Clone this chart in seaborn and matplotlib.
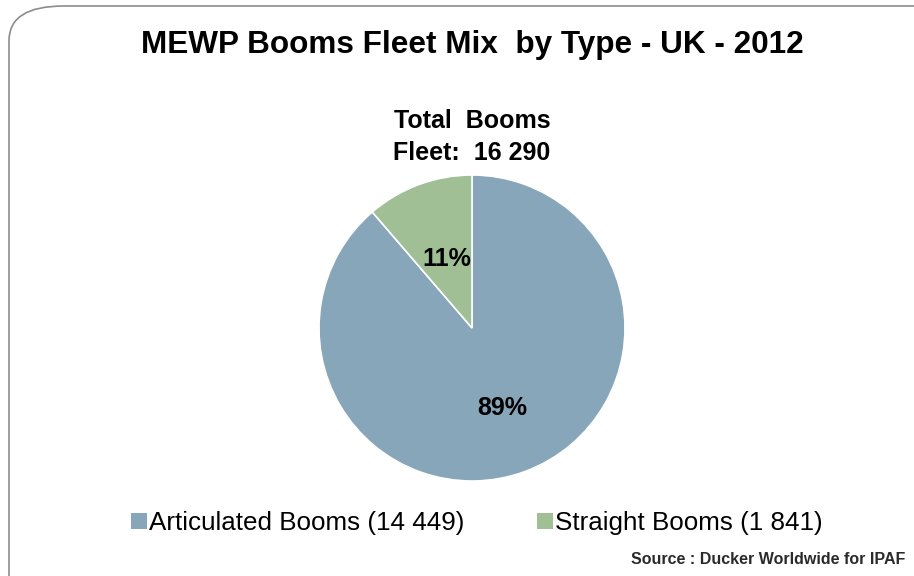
import matplotlib
matplotlib.use("Agg")
import matplotlib.pyplot as plt
import seaborn as sns
from matplotlib.patches import FancyBboxPatch, Patch

categories = ["Articulated Booms", "Straight Booms"]
counts = [14449, 1841]
legend_labels = ["Articulated Booms (14 449)", "Straight Booms (1 841)"]
colors = ["#87a6ba", "#a0bf94"]
title = "MEWP Booms Fleet Mix  by Type - UK - 2012"
total_lines = ["Total  Booms", "Fleet:  16 290"]
source = "Source : Ducker Worldwide for IPAF"

sns.set_theme(style="white")
plt.rcParams["font.family"] = ["Liberation Sans", "DejaVu Sans"]

fig = plt.figure(figsize=(9.14, 5.76), dpi=100)

# rounded frame around the chart area
frame = FancyBboxPatch(
    (9 / 914, -0.1), 1.2, 1.1 - 6 / 576,
    boxstyle="round,pad=0,rounding_size=0.06",
    transform=fig.transFigure, fill=False, edgecolor="#8c8c8c", linewidth=1.2,
)
fig.patches.append(frame)

ax = fig.add_axes([319 / 914, 95 / 576, 306 / 914, 306 / 576])
wedges, _, autotexts = ax.pie(
    counts,
    colors=colors,
    startangle=90,
    counterclock=False,
    autopct=lambda p: f"{p:.0f}%",
    pctdistance=0.56,
    wedgeprops={"edgecolor": "white", "linewidth": 1.2},
    textprops={"fontsize": 18, "fontweight": "bold", "color": "black"},
)
x, y = autotexts[1].get_position()
autotexts[1].set_position((x * 0.86, y * 0.86))
ax.set_xlim(-1.0, 1.0)
ax.set_ylim(-1.0, 1.0)
ax.set_aspect("equal")
ax.axis("off")

fig.text(472 / 914, 1 - 45 / 576, title, ha="center", va="center",
         fontsize=22.7, fontweight="bold", color="black")
for yy, line in zip([121, 153], total_lines):
    fig.text(472 / 914, 1 - yy / 576, line, ha="center", va="center",
             fontsize=18, fontweight="bold", color="black")

handles = [Patch(facecolor=c, edgecolor="none") for c in colors]
leg = fig.legend(
    handles, legend_labels,
    loc="center", bbox_to_anchor=(477 / 914, 1 - 523 / 576),
    ncol=2, frameon=False, fontsize=18.7,
    handlelength=0.6, handleheight=0.6, handletextpad=0.1, columnspacing=2.8,
)
for t in leg.get_texts():
    t.set_color("black")

fig.text(905 / 914, 1 - 559 / 576, source, ha="right", va="center",
         fontsize=11.5, fontweight="bold", color="#2a2a2a")

fig.savefig("out.png", dpi=100)
